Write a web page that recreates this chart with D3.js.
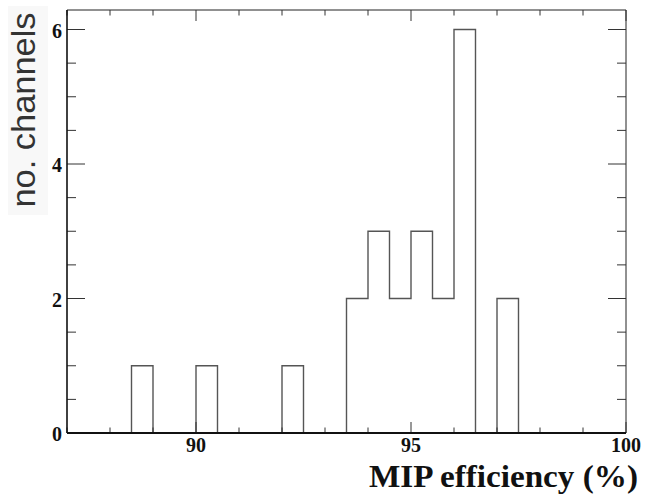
<!DOCTYPE html>
<html><head><meta charset="utf-8">
<script src="https://cdn.jsdelivr.net/npm/d3@7"></script>
<style>body{margin:0;background:#fff}svg{display:block}</style>
</head><body>
<script>
// Histogram data (bins of width 0.5 from 87 to 100)
const binLowEdges = [87,87.5,88,88.5,89,89.5,90,90.5,91,91.5,92,92.5,93,93.5,94,94.5,95,95.5,96,96.5,97,97.5,98,98.5,99,99.5];
const binCounts   = [0,0,0,1,0,0,1,0,0,0,1,0,0,2,3,2,3,2,6,0,2,0,0,0,0,0];
const binWidth = 0.5;
const xMajorTicks = [90,95,100];
const xMinorTicks = [87,88,89,91,92,93,94,96,97,98,99];
const yMajorTicks = [0,2,4,6];
const yMinorTicks = [0.5,1,1.5,2.5,3,3.5,4.5,5,5.5];
const xTitle = "MIP efficiency (%)";
const yTitle = "no. channels";

const W = 654, H = 500;
const L = 67, R = 626, T = 10, B = 433;
const svg = d3.select("body").append("svg").attr("width", W).attr("height", H);
const x = d3.scaleLinear().domain([87,100]).range([L,R]);
const y = d3.scaleLinear().domain([0,6.29]).range([B,T]);

// y title box
svg.append("rect").attr("x",8).attr("y",6).attr("width",40).attr("height",209).attr("fill","#f8f8f8");
svg.append("text").attr("transform",`translate(35,${110}) rotate(-90)`)
  .attr("text-anchor","middle").attr("font-family","Liberation Sans, Arial, sans-serif")
  .attr("font-size",34).attr("textLength",195).attr("lengthAdjust","spacingAndGlyphs")
  .attr("fill","#333").text(yTitle);

// histogram step outline
const pts = [[binLowEdges[0],0]];
binLowEdges.forEach((e,i)=>{ pts.push([e,binCounts[i]]); pts.push([e+binWidth,binCounts[i]]); });
pts.push([binLowEdges[binLowEdges.length-1]+binWidth,0]);
svg.append("path").attr("d", d3.line().x(d=>x(d[0])).y(d=>y(d[1]))(pts))
  .attr("fill","none").attr("stroke","#555").attr("stroke-width",1.4);

// frame
const g = svg.append("g").attr("stroke","#222").attr("fill","none");
g.append("line").attr("x1",L).attr("x2",R).attr("y1",T).attr("y2",T).attr("stroke-width",1);
g.append("line").attr("x1",R).attr("x2",R).attr("y1",T).attr("y2",B).attr("stroke-width",1);

// ticks (bottom/top, left/right)
const tk = svg.append("g").attr("stroke","#333").attr("stroke-width",1);
xMajorTicks.forEach(v=>{
  tk.append("line").attr("x1",x(v)).attr("x2",x(v)).attr("y1",B).attr("y2",B-11);
  tk.append("line").attr("x1",x(v)).attr("x2",x(v)).attr("y1",T).attr("y2",T+11);
});
xMinorTicks.forEach(v=>{
  tk.append("line").attr("x1",x(v)).attr("x2",x(v)).attr("y1",B).attr("y2",B-5.5);
  tk.append("line").attr("x1",x(v)).attr("x2",x(v)).attr("y1",T).attr("y2",T+5.5);
});
yMajorTicks.forEach(v=>{
  tk.append("line").attr("x1",L).attr("x2",L+18).attr("y1",y(v)).attr("y2",y(v));
  tk.append("line").attr("x1",R).attr("x2",R-18).attr("y1",y(v)).attr("y2",y(v));
});
yMinorTicks.forEach(v=>{
  tk.append("line").attr("x1",L).attr("x2",L+9).attr("y1",y(v)).attr("y2",y(v));
  tk.append("line").attr("x1",R).attr("x2",R-9).attr("y1",y(v)).attr("y2",y(v));
});

// main axes lines
svg.append("line").attr("x1",L).attr("x2",L).attr("y1",T).attr("y2",B).attr("stroke","#111").attr("stroke-width",1.6);
svg.append("line").attr("x1",L).attr("x2",R).attr("y1",B).attr("y2",B).attr("stroke","#111").attr("stroke-width",2);

// tick labels
const font = "Liberation Serif, Times New Roman, serif";
xMajorTicks.forEach(v=>{
  svg.append("text").attr("x",x(v)).attr("y",452).attr("text-anchor","middle")
    .attr("font-family",font).attr("font-weight","bold").attr("font-size",20).attr("fill","#111").text(v);
});
yMajorTicks.forEach(v=>{
  svg.append("text").attr("x",62).attr("y",y(v)+8).attr("text-anchor","end")
    .attr("font-family",font).attr("font-weight","bold").attr("font-size",20).attr("fill","#111").text(v);
});

// x title
svg.append("text").attr("x",638).attr("y",487).attr("text-anchor","end")
  .attr("font-family",font).attr("font-weight","bold").attr("font-size",32)
  .attr("textLength",269).attr("lengthAdjust","spacingAndGlyphs")
  .attr("fill","#111").text(xTitle);
</script>
</body></html>
